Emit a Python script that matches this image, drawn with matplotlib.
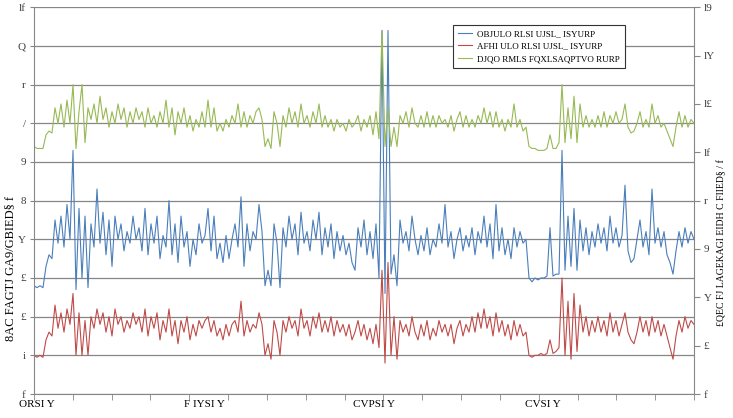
import numpy as np
import matplotlib
matplotlib.use('Agg')
import matplotlib.pyplot as plt

# valeurs (une valeur tous les ~3 px)
serie_bleue = [
    2.8, 2.75, 2.8, 2.75, 3.3, 3.6, 3.5, 4.5, 3.9, 4.6,
    3.8, 4.9, 4.0, 6.3, 2.7, 4.8, 3.0, 4.6, 2.75, 4.4,
    3.8, 5.3, 3.9, 4.7, 3.6, 4.5, 3.3, 4.6, 4.0, 4.4,
    3.7, 4.2, 3.9, 4.6, 4.0, 4.3, 3.7, 4.8, 3.6, 4.4,
    3.9, 4.6, 3.5, 4.1, 3.8, 5.0, 3.6, 4.4, 3.4, 4.6,
    3.8, 4.2, 3.3, 4.0, 3.6, 4.4, 3.9, 4.1, 4.8, 3.7,
    4.6, 3.5, 3.9, 3.4, 4.1, 3.5, 4.0, 4.4, 3.8, 5.1,
    3.3, 4.4, 3.7, 4.2, 4.0, 4.9, 4.2, 2.8, 3.2, 2.8,
    4.4, 3.9, 2.75, 4.3, 3.8, 4.6, 4.0, 4.4, 3.6, 4.7,
    3.9, 4.2, 3.7, 4.5, 4.0, 4.7, 3.6, 4.3, 3.8, 4.4,
    3.5, 4.2, 3.7, 4.1, 3.6, 3.9, 3.4, 3.2, 4.3, 3.8,
    4.5, 3.6, 4.2, 3.5, 4.4, 3.0, 9.4, 2.6, 9.4, 3.1,
    3.6, 2.8, 4.5, 3.9, 4.2, 3.7, 4.6, 4.0, 3.6, 4.1,
    3.7, 4.3, 3.6, 4.0, 3.8, 4.4, 3.9, 4.9, 3.8, 4.2,
    3.5, 4.0, 4.3, 3.7, 4.1, 3.8, 4.3, 3.6, 4.2, 3.9,
    4.6, 3.8, 4.4, 3.5, 4.9, 3.7, 4.3, 3.6, 4.0, 3.5,
    4.3, 3.8, 4.2, 3.9, 4.0, 3.0, 2.9, 3.0, 2.95, 3.0,
    3.0, 3.05, 4.3, 3.05, 3.1, 3.1, 6.3, 3.2, 4.6, 3.3,
    4.8, 3.2, 4.5, 3.7, 4.3, 3.6, 4.2, 3.8, 4.4, 3.9,
    4.3, 3.7, 4.6, 3.9, 4.3, 3.8, 4.1, 5.4, 3.7, 3.4,
    3.5, 4.0, 4.5, 3.8, 4.2, 3.6, 5.3, 3.9, 4.3, 3.8,
    4.2, 3.6, 3.4, 3.1, 3.7, 4.2, 3.8, 4.3, 3.9, 4.2,
    4.0,
]

serie_rouge = [
    1.0, 0.95, 1.0, 0.95, 1.4, 1.6, 1.5, 2.3, 1.7, 2.1,
    1.6, 2.2, 1.8, 2.6, 1.0, 2.1, 1.0, 1.9, 1.0, 2.0,
    1.7, 2.2, 1.8, 2.1, 1.6, 2.0, 1.5, 2.2, 1.8, 2.0,
    1.6, 1.9, 1.7, 2.1, 1.8, 2.0, 1.6, 2.2, 1.5, 2.0,
    1.7, 2.1, 1.4, 1.9, 1.6, 2.2, 1.5, 1.9, 1.3, 1.9,
    1.6, 2.0, 1.4, 1.8, 1.5, 1.9, 1.7, 1.9, 2.0, 1.6,
    1.9, 1.5, 1.7, 1.4, 1.8, 1.5, 1.8, 1.9, 1.6, 2.4,
    1.5, 1.9, 1.6, 1.8, 1.7, 2.1, 1.8, 1.0, 1.3, 0.9,
    1.9, 1.6, 1.0, 1.9, 1.6, 2.0, 1.7, 1.9, 1.5, 2.2,
    1.7, 1.9, 1.5, 2.0, 1.7, 2.1, 1.6, 1.9, 1.6, 2.0,
    1.5, 1.9, 1.6, 1.8, 1.5, 1.8, 1.4, 1.6, 1.9, 1.5,
    1.8, 1.4, 1.7, 1.3, 1.8, 1.2, 3.2, 0.8, 3.4, 1.0,
    2.0, 0.9, 1.9, 1.6, 1.8, 1.5, 2.0, 1.6, 1.4, 1.8,
    1.5, 1.9, 1.4, 1.7, 1.5, 1.9, 1.6, 1.8, 1.5, 1.8,
    1.3, 1.7, 1.9, 1.5, 1.8, 1.6, 2.0, 1.6, 2.1, 1.7,
    2.2, 1.7, 2.0, 1.5, 2.1, 1.6, 1.9, 1.5, 1.8, 1.4,
    1.9, 1.5, 1.8, 1.5, 1.6, 1.0, 0.95, 1.0, 1.0, 1.05,
    1.0, 1.05, 1.4, 1.05, 1.1, 1.2, 3.0, 1.0, 2.4, 0.9,
    2.6, 1.1, 2.3, 1.6, 2.0, 1.5, 1.9, 1.6, 2.0, 1.6,
    1.9, 1.5, 2.1, 1.6, 1.9, 1.5, 1.8, 2.1, 1.6, 1.4,
    1.3, 1.6, 2.0, 1.6, 1.9, 1.5, 2.0, 1.6, 1.9, 1.5,
    1.8, 1.5, 1.2, 0.9, 1.5, 1.9, 1.6, 2.0, 1.7, 1.9,
    1.8,
]

serie_verte = [
    6.4, 6.35, 6.35, 6.35, 6.7, 6.8, 6.75, 7.4, 7.0, 7.5,
    6.9, 7.6, 7.0, 8.0, 6.35, 7.3, 8.0, 6.5, 7.4, 7.1,
    7.5, 7.0, 7.7, 7.1, 7.4, 6.9, 7.3, 7.0, 7.5, 7.1,
    7.4, 6.9, 7.3, 7.0, 7.4, 7.1, 7.3, 6.9, 7.4, 7.0,
    7.2, 6.9, 7.3, 7.0, 7.6, 6.9, 7.4, 6.7, 7.3, 7.0,
    7.4, 6.9, 7.2, 6.8, 7.1, 6.9, 7.3, 6.9, 7.6, 6.9,
    7.4, 6.8, 7.0, 6.8, 7.1, 6.9, 7.2, 7.0, 7.5, 6.9,
    7.3, 6.9, 7.2, 7.0, 7.3, 7.4, 7.1, 6.4, 6.6, 6.35,
    7.3, 7.0, 6.4, 7.2, 6.9, 7.4, 7.0, 7.3, 6.9, 7.5,
    7.0, 7.2, 6.9, 7.3, 7.0, 7.5, 6.9, 7.2, 6.9, 7.1,
    6.8, 7.1, 6.9, 7.0, 6.8, 7.1, 6.9, 7.0, 7.2, 6.8,
    7.1, 6.9, 7.2, 6.7, 7.3, 6.6, 9.4, 6.4, 7.4, 6.4,
    6.9, 6.4, 7.2, 7.0, 7.3, 6.9, 7.4, 7.0, 6.9, 7.2,
    6.9, 7.3, 6.9, 7.2, 6.9, 7.2, 7.0, 7.1, 6.9, 7.2,
    6.8, 7.1, 7.3, 6.9, 7.2, 6.9, 7.1, 6.9, 7.2, 7.0,
    7.4, 7.0, 7.3, 6.9, 7.3, 6.9, 7.1, 6.8, 7.1, 6.9,
    7.5, 6.9, 7.1, 6.8, 6.9, 6.4, 6.35, 6.35, 6.3, 6.3,
    6.3, 6.35, 6.7, 6.35, 6.35, 6.5, 8.0, 6.5, 7.4, 6.6,
    7.7, 6.5, 7.5, 6.9, 7.2, 6.9, 7.1, 6.9, 7.2, 6.9,
    7.3, 6.9, 7.2, 7.0, 7.3, 7.0, 7.1, 7.5, 6.9, 6.75,
    6.8, 7.0, 7.3, 6.9, 7.1, 6.9, 7.5, 7.0, 7.2, 6.9,
    7.0, 6.8, 6.6, 6.4, 6.9, 7.3, 6.9, 7.2, 6.9, 7.1,
    7.0,
]

noms_series = ['OBJULO RLSI UJSL_ ISYURP', 'AFHI ULO RLSI UJSL_ ISYURP', 'DJQO RMLS FQXLSAQPTVO RURP']
couleurs = ['#4A7EBB', '#BE4B48', '#98B954']

etiquettes_x = ['ORSI Y', 'F IYSI Y', 'CVPSI Y', 'CVSI Y']
positions_etiquettes_x = [0.07, 4.4, 8.76, 13.1]
etiquettes_gauche = ['f', 'i', '£', '£', 'Y', '8', '9', '/', 'r', 'Q', 'lf']
etiquettes_droite = ['f', '£', 'Y', '9', 'r', 'lf', 'l£', 'lY', 'l9']

plt.rcParams['font.family'] = ['Liberation Serif', 'DejaVu Sans']
gris = '#868686'
texte = '#404040'

fig = plt.figure(figsize=(7.33, 4.18), dpi=100)
ax = fig.add_axes([34 / 733, 24 / 418, 660 / 733, 386.7 / 418])

for valeurs, nom, c in zip([serie_bleue, serie_rouge, serie_verte], noms_series, couleurs):
    x = np.linspace(0, 17, len(valeurs))
    ax.plot(x, valeurs, color=c, lw=0.8, label=nom)

ax.set_xlim(0, 17)
ax.set_ylim(0, 10)
ax.set_yticks(range(11))
ax.set_yticklabels(etiquettes_gauche, fontsize=8, color=texte)
ax.set_xticks(range(18), minor=True)
ax.set_xticks(positions_etiquettes_x)
ax.set_xticklabels(etiquettes_x, fontsize=8, color='black')
ax.tick_params(axis='x', which='major', length=0, pad=4)
ax.tick_params(axis='x', which='minor', length=4, color=gris, direction='out')
ax.tick_params(axis='y', length=3, color=gris, pad=3)
ax.grid(axis='y', color=gris, lw=0.9)
ax.set_axisbelow(True)
for s in ['top', 'right']:
    ax.spines[s].set_visible(False)
for s in ['left', 'bottom']:
    ax.spines[s].set_color(gris)

ax2 = ax.twinx()
ax2.set_ylim(0, 16)
ax2.set_yticks(range(0, 17, 2))
ax2.set_yticklabels(etiquettes_droite, fontsize=8, color=texte)
ax2.tick_params(axis='y', length=4, color=gris, pad=3)
for s in ['top', 'left', 'bottom']:
    ax2.spines[s].set_visible(False)
ax2.spines['right'].set_color(gris)

fig.text(10 / 733, 1 - 268 / 418, '8AC FAGTJ GA9/GBIED§ f', rotation=90,
         ha='center', va='center', fontsize=9)
fig.text(722 / 733, 1 - 243 / 418, '£QEC FJ LAGEKAGI EIDH C FIIED§ / f', rotation=90,
         ha='center', va='center', fontsize=7)

leg = ax.legend(loc='upper left', bbox_to_anchor=(448 / 733, 1 - 20 / 418),
                bbox_transform=fig.transFigure, fontsize=6.5, handlelength=1.6,
                handletextpad=0.5, borderpad=0.6, labelspacing=0.45,
                fancybox=False, framealpha=1)
leg.get_frame().set_edgecolor('#333333')
leg.get_frame().set_linewidth(0.8)

fig.savefig('out.png', dpi=100)
